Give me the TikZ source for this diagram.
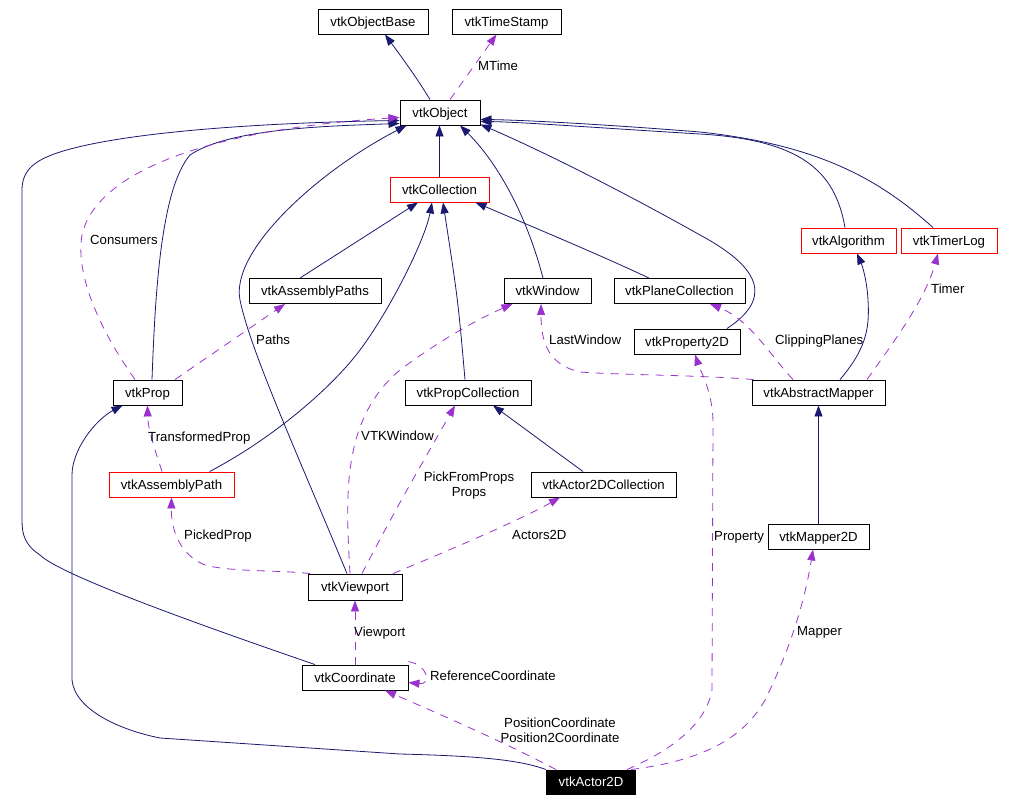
\documentclass[tikz,border=0pt]{standalone}
\usepackage{fontspec}
\setmainfont{Liberation Sans}
\usetikzlibrary{arrows.meta}
\definecolor{navy}{RGB}{25,25,112}
\definecolor{purp}{RGB}{154,50,205}
\tikzset{
  cls/.style={draw=black, line width=0.9pt, minimum height=25pt, inner sep=0pt, fill=white, text height=9.5pt, text depth=0pt},
  redcls/.style={cls, draw=red},
  inh/.style={draw=navy, line width=0.8pt, -{Triangle[length=11pt,width=8pt]}},
  use/.style={draw=purp, line width=0.8pt, dash pattern=on 8pt off 7pt, -{Triangle[length=11pt,width=8pt]}},
  lbl/.style={anchor=west, inner sep=0pt, text height=9.5pt, text depth=0pt},
  clbl/.style={inner sep=0pt, align=center}
}
\begin{document}
\begin{tikzpicture}[x=1pt,y=-1pt, every node/.style={font=\fontsize{13.2}{15}\selectfont}]
\useasboundingbox[fill=white] (0,0) rectangle (1014,802);
% nodes
\node[cls, minimum width=110pt] (ob) at (373,21.5) {vtkObjectBase};
\node[cls, minimum width=109pt] (ts) at (506.5,21.5) {vtkTimeStamp};
\node[cls, minimum width=80pt] (obj) at (440,112.5) {vtkObject};
\node[redcls, minimum width=99pt] (coll) at (439.5,189.5) {vtkCollection};
\node[cls, minimum width=132pt] (aps) at (315,291) {vtkAssemblyPaths};
\node[cls, minimum width=87pt] (win) at (547.5,291) {vtkWindow};
\node[cls, minimum width=131pt] (pc) at (679.5,291) {vtkPlaneCollection};
\node[redcls, minimum width=95pt] (alg) at (848.5,240.5) {vtkAlgorithm};
\node[redcls, minimum width=96pt] (tl) at (949,240.5) {vtkTimerLog};
\node[cls, minimum width=106pt] (p2d) at (687,341.5) {vtkProperty2D};
\node[cls, minimum width=133pt] (am) at (818.5,392.5) {vtkAbstractMapper};
\node[cls, minimum width=69pt] (prop) at (147.5,392.5) {vtkProp};
\node[cls, minimum width=126pt] (propc) at (468,392.5) {vtkPropCollection};
\node[redcls, minimum width=125pt] (ap) at (171.5,484.5) {vtkAssemblyPath};
\node[cls, minimum width=145pt] (a2dc) at (603.5,484.5) {vtkActor2DCollection};
\node[cls, minimum width=101pt] (m2d) at (818.5,536.5) {vtkMapper2D};
\node[cls, minimum width=94pt, minimum height=26pt] (vp) at (355,587) {vtkViewport};
\node[cls, minimum width=106pt] (coord) at (355,677.5) {vtkCoordinate};
\node[cls, fill=black, text=white, minimum width=89pt, minimum height=24pt] (a2d) at (591,782) {vtkActor2D};

% inheritance edges
\draw[inh] ([xshift=-10pt]obj.north) .. controls (415,75) and (400,55) .. ([xshift=12pt]ob.south);
\draw[inh] (coll.north) -- (coll.north |- obj.south);
\draw[inh] ([xshift=-15pt]aps.north) -- ([xshift=-21.5pt]coll.south);
\draw[inh] ([xshift=38pt]ap.north) .. controls (270,440) and (330,390) .. (360,350) .. controls (390,310) and (425,240) .. ([xshift=-7.5pt]coll.south);
\draw[inh] ([xshift=-3pt]propc.north) .. controls (458,300) .. ([xshift=3.5pt]coll.south);
\draw[inh] ([xshift=-30.5pt]pc.north) .. controls (600,255) and (540,230) .. ([xshift=36pt]coll.south);
\draw[inh] ([xshift=4.5pt]prop.north) .. controls (155,300) and (160,190) .. (190,155) .. controls (230,128) and (330,126) .. ([yshift=2pt]obj.south west);
\draw[inh] ([xshift=-8pt]vp.north) .. controls (300,460) and (250,350) .. (240,300) .. controls (230,250) and (320,170) .. ([xshift=7pt]obj.south west);
\draw[inh] ([xshift=-4.5pt]win.north) .. controls (528,220) and (500,165) .. ([xshift=20pt]obj.south);
\draw[inh] ([xshift=40pt]p2d.north) .. controls (770,300) and (765,270) .. (700,235) .. controls (620,190) and (540,150) .. ([yshift=1pt]obj.south east);
\draw[inh] ([xshift=-3.5pt]alg.north) .. controls (835,170) and (800,140) .. (700,134) .. controls (600,128) and (520,122) .. ([yshift=4pt]obj.south east);
\draw[inh] ([xshift=-16pt]tl.north) .. controls (880,180) and (820,145) .. (700,132) .. controls (600,124) and (520,120) .. ([yshift=6pt]obj.south east);
\draw[inh] ([xshift=-40pt]coord.north) .. controls (200,625) and (60,575) .. (40,555) .. controls (25,545) and (22,535) .. (22,520) -- (22,190) .. controls (22,170) and (35,160) .. (60,152) .. controls (120,133) and (250,123) .. ([yshift=5pt]obj.south west);
\draw[inh] (a2d.north west) .. controls (520,760) and (480,756) .. (400,754) -- (160,738) .. controls (120,730) and (75,710) .. (72,680) -- (72,475) .. controls (72,450) and (95,420) .. ([xshift=-25pt]prop.south);
\draw[inh] ([xshift=21.5pt]am.north) .. controls (865,350) and (870,330) .. (868,300) .. controls (867,280) and (862,265) .. ([xshift=8.5pt]alg.south);
\draw[inh] (m2d.north) -- (am.south);
\draw[inh] ([xshift=-20.5pt]a2dc.north) .. controls (540,440) .. ([xshift=25pt]propc.south);

% usage edges
\draw[use] ([xshift=10pt]obj.north) -- ([xshift=-10pt]ts.south);
\node[lbl] (lmtime) at (478,66) {MTime};
\draw[use] ([xshift=-12.5pt]prop.north) .. controls (100,330) and (75,275) .. (82,235) .. controls (95,175) and (200,130) .. ([yshift=8pt]obj.south west);
\node[lbl] (lcons) at (90,240) {Consumers};
\draw[use] ([xshift=27.5pt]prop.north) -- ([xshift=-30pt]aps.south);
\node[lbl] (lpaths) at (256,340) {Paths};
\draw[use] ([xshift=-9.5pt]ap.north) .. controls (155,450) and (148,430) .. (prop.south);
\node[lbl] (ltp) at (148,437) {TransformedProp};
\draw[use] ([xshift=-45pt]vp.north) .. controls (280,570) and (230,572) .. (205,565) .. controls (180,555) and (171,530) .. (ap.south);
\node[lbl] (lpp) at (184,535) {PickedProp};
\draw[use] ([xshift=-5pt]vp.north) .. controls (346,500) and (340,420) .. (400,370) .. controls (440,340) and (480,318) .. ([xshift=-35pt]win.south);
\node[lbl] (lvtkw) at (361,436) {VTKWindow};
\draw[use] ([xshift=7pt]vp.north) .. controls (400,500) and (430,450) .. ([xshift=-13pt]propc.south);
\node[clbl] (lpfp) at (469,485.5) {PickFromProps\\Props};
\draw[use] ([xshift=38pt]vp.north) .. controls (450,550) and (520,520) .. ([xshift=-43.5pt]a2dc.south);
\node[lbl] (la2d) at (512,535) {Actors2D};
\draw[use] ([xshift=-65pt]am.north) .. controls (700,375) and (620,375) .. (580,372) .. controls (550,365) and (541,345) .. ([xshift=-6.5pt]win.south);
\node[lbl] (llw) at (549,340) {LastWindow};
\draw[use] ([xshift=-25.5pt]am.north) .. controls (770,355) and (750,320) .. ([xshift=30.5pt]pc.south);
\node[lbl] (lcp) at (775,340) {ClippingPlanes};
\draw[use] ([xshift=48.5pt]am.north) .. controls (895,340) and (925,300) .. ([xshift=-11pt]tl.south);
\node[lbl] (ltimer) at (931,289) {Timer};
\draw[use] (coord.north) -- (vp.south);
\node[lbl] (lvp) at (354,632) {Viewport};
\draw[use] ([yshift=3pt]coord.north east) .. controls (428,665) and (432,685) .. ([yshift=-5pt]coord.east);
\node[lbl] (lref) at (430,676) {ReferenceCoordinate};
\draw[use] ([xshift=-35pt]a2d.north) .. controls (500,740) and (430,710) .. ([xshift=30pt]coord.south);
\node[clbl] (lpos) at (560,730.5) {PositionCoordinate\\Position2Coordinate};
\draw[use] ([xshift=36pt]a2d.north) .. controls (660,755) and (705,730) .. (712,690) -- (713,420) .. controls (712,390) and (700,370) .. ([xshift=8pt]p2d.south);
\node[lbl] (lprop) at (714,536) {Property};
\draw[use] ([xshift=40pt]a2d.north) .. controls (690,762) and (740,745) .. (765,700) .. controls (790,650) and (805,600) .. ([xshift=-5.5pt]m2d.south);
\node[lbl] (lmap) at (797,631) {Mapper};
\end{tikzpicture}
\end{document}
